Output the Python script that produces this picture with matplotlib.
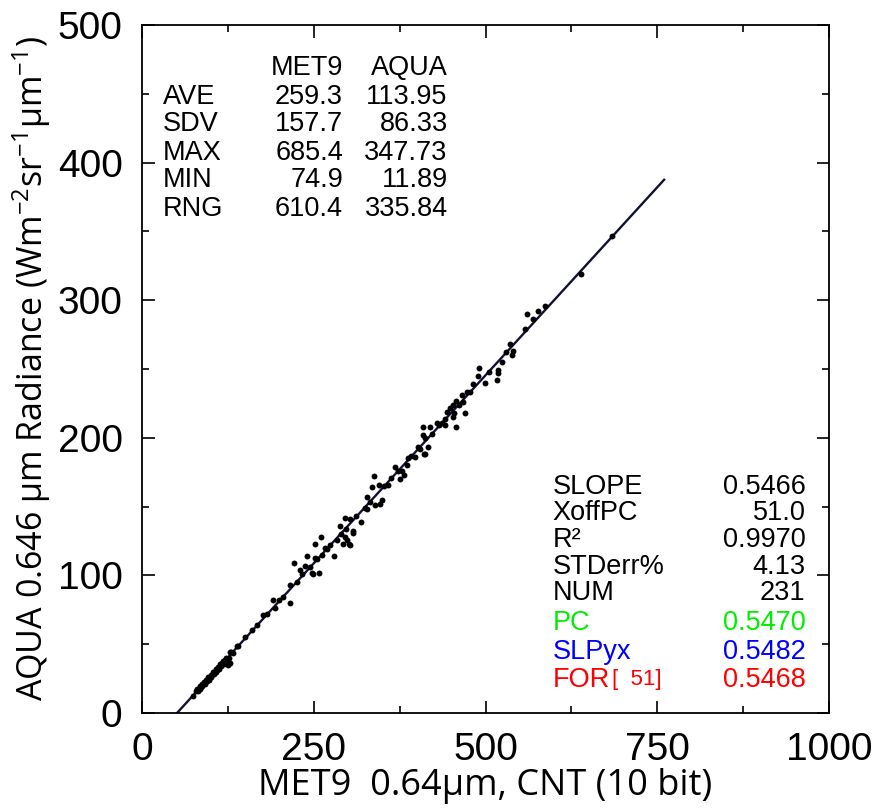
## MET9 vs AQUA 0.64um radiance scatter with fit line and stats
import numpy as np
import matplotlib
matplotlib.use('Agg')
import matplotlib.pyplot as plt
from matplotlib.ticker import MultipleLocator

# scatter points (MET9 counts, AQUA radiance)
met9 = [78, 80, 82, 84, 85, 87, 88, 90, 91, 93, 95, 96, 98, 100, 101,
        103, 105, 107, 108, 110, 112, 114, 115, 118, 120, 122, 124, 127, 130, 133,
        74, 125, 128, 128, 138, 140, 150, 160, 168, 176, 182, 194, 190, 200, 205,
        215, 215, 221, 237, 230, 240, 247, 249, 252, 252, 258, 260, 266, 273, 279,
        288, 293, 295, 295, 297, 298, 301, 303, 303, 307, 307, 319, 328, 328, 335,
        338, 339, 345, 346, 349, 358, 368, 376, 379, 381, 386, 387, 397, 405, 409,
        409, 410, 412, 412, 416, 419, 429, 441, 441, 444, 448, 453, 453, 454, 457,
        457, 466, 467, 470, 473, 482, 489, 491, 499, 517, 518, 518, 524, 536, 539,
        540, 557, 560, 569, 576, 587, 639, 684,
        86, 92, 97, 104, 109, 117, 121, 226, 233, 244, 255, 262, 270, 284, 290,
        312, 324, 332, 352, 362, 372, 392, 402, 422, 433, 437, 462, 478, 505, 530]
aqua = [15.8, 17.2, 16.1, 19.3, 17.6, 21.0, 19.5, 22.4, 20.8, 24.1, 22.9, 25.9, 24.8, 27.9, 26.1,
        29.6, 28.7, 31.8, 29.9, 33.5, 32.1, 35.6, 33.8, 37.9, 35.9, 40.1, 38.7, 40.3, 44.5, 43.6,
        12, 35, 36, 44, 49, 49, 55, 60, 64, 71, 72, 76, 82, 82, 84,
        80, 93, 109, 107, 104, 114, 102, 101, 113, 123, 102, 128, 120, 122, 114,
        136, 123, 128, 142, 134, 126, 123, 122, 141, 131, 132, 139, 148, 157, 164,
        172, 151, 166, 152, 155, 166, 179, 170, 176, 173, 180, 185, 186, 192, 202,
        208, 188, 188, 200, 193, 208, 211, 214, 209, 219, 222, 224, 215, 218, 227,
        208, 231, 226, 218, 233, 239, 245, 251, 240, 242, 247, 249, 255, 268, 260,
        263, 279, 290, 286, 292, 296, 319, 347,
        18.9, 22.1, 24.3, 28.0, 31.0, 36.2, 38.4, 95, 101, 106, 112, 115, 119, 126, 130,
        143, 149, 153, 165, 171, 176, 187, 193, 203, 209, 211, 224, 233, 248, 262]

# fit line
slope = 0.5466
xoff = 51.0
fit_x = [xoff, 760.0]

# stats tables
stat_names = ['AVE', 'SDV', 'MAX', 'MIN', 'RNG']
stat_met9 = ['259.3', '157.7', '685.4', '74.9', '610.4']
stat_aqua = ['113.95', '86.33', '347.73', '11.89', '335.84']

fit_names = ['SLOPE', 'XoffPC', 'R²', 'STDerr%', 'NUM', 'PC', 'SLPyx', 'FOR']
fit_vals = ['0.5466', '51.0', '0.9970', '4.13', '231', '0.5470', '0.5482', '0.5468']
fit_cols = ['black'] * 5 + ['#00ee00', '#0000ff', '#ff0000']

helv = ['Liberation Sans', 'DejaVu Sans']
calibri = ['Open Sans', 'DejaVu Sans']

plt.rcParams['mathtext.fontset'] = 'custom'
plt.rcParams['mathtext.rm'] = 'Open Sans'
plt.rcParams['mathtext.it'] = 'Open Sans'
plt.rcParams['mathtext.default'] = 'rm'

fig = plt.figure(figsize=(8.73, 8.11), dpi=100)
ax = fig.add_axes([142/873, 1 - 713/811, 687/873, 688/811])

ax.plot(fit_x, [slope*(x - xoff) for x in fit_x], color='#101038', lw=1.7, zorder=2)
ax.scatter(met9, aqua, s=18, color='black', zorder=3, linewidths=0)

ax.set_xlim(0, 1000)
ax.set_ylim(0, 500)
ax.xaxis.set_major_locator(MultipleLocator(250))
ax.xaxis.set_minor_locator(MultipleLocator(125))
ax.yaxis.set_major_locator(MultipleLocator(100))
ax.yaxis.set_minor_locator(MultipleLocator(50))
ax.tick_params(which='both', direction='in', top=True, right=True, width=1.2)
ax.tick_params(which='major', length=9, labelsize=28, pad=14)
ax.tick_params(which='minor', length=5)
for lab in ax.get_xticklabels() + ax.get_yticklabels():
    lab.set_family(helv)
for sp in ax.spines.values():
    sp.set_linewidth(1.3)

ax.set_xlabel('MET9  0.64µm, CNT (10 bit)', family=calibri, fontsize=26, labelpad=0)
ax.set_ylabel(r'AQUA 0.646 µm Radiance (Wm$^{-2}$sr$^{-1}$µm$^{-1}$)',
              family=calibri, fontsize=24.5, labelpad=3)

# upper left table
fs = 19.5
ax.text(292.6, 469, 'MET9', ha='right', va='center', fontsize=fs, family=helv)
ax.text(445, 469, 'AQUA', ha='right', va='center', fontsize=fs, family=helv)
row_y = [448, 428, 407, 387, 366.5]
for name, m, a, yy in zip(stat_names, stat_met9, stat_aqua, row_y):
    ax.text(30.6, yy, name, ha='left', va='center', fontsize=fs, family=helv)
    ax.text(292.6, yy, m, ha='right', va='center', fontsize=fs, family=helv)
    ax.text(445, yy, a, ha='right', va='center', fontsize=fs, family=helv)

# lower right fit stats
fs2 = 19.5
fit_y = [164, 145.5, 125.5, 106, 87, 65.3, 44.3, 24]
for name, v, c, yy in zip(fit_names, fit_vals, fit_cols, fit_y):
    ax.text(598, yy, name, ha='left', va='center', fontsize=fs2, family=helv, color=c)
    ax.text(966, yy, v, ha='right', va='center', fontsize=fs2, family=helv, color=c)
ax.text(684, fit_y[-1], '[  51]', ha='left', va='center', fontsize=16, family=helv,
        color=fit_cols[-1])

fig.savefig('out.png', dpi=100)
